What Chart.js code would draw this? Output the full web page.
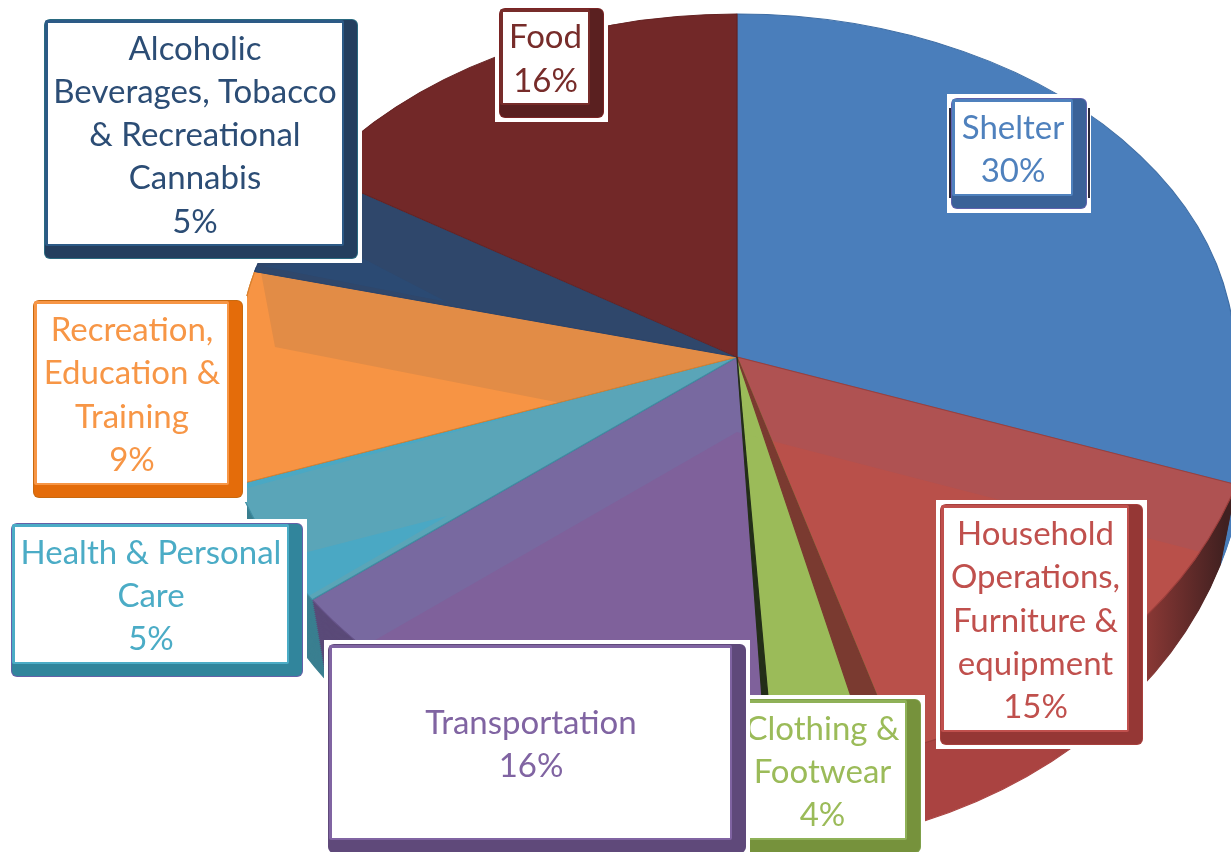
<!DOCTYPE html>
<html>
<head>
<meta charset="utf-8">
<title>Household spending shares</title>
<style>
  html, body { margin: 0; padding: 0; background: #fff; overflow: hidden; }
  canvas { display: block; }
</style>
<script src="https://cdn.jsdelivr.net/npm/chart.js@4"></script>
</head>
<body>
<canvas id="spendingPie" width="1231" height="852"></canvas>
<script>
const categories = [
  'Shelter',
  'Household Operations, Furniture & equipment',
  'Clothing & Footwear',
  'Transportation',
  'Health & Personal Care',
  'Recreation, Education & Training',
  'Alcoholic Beverages, Tobacco & Recreational Cannabis',
  'Food'
];
const shares = [30, 15, 4, 16, 5, 9, 5, 16];
const labelLines = [
  ['Shelter'],
  ['Household', 'Operations,', 'Furniture &', 'equipment'],
  ['Clothing &', 'Footwear'],
  ['Transportation'],
  ['Health & Personal', 'Care'],
  ['Recreation,', 'Education &', 'Training'],
  ['Alcoholic', 'Beverages, Tobacco', '& Recreational', 'Cannabis'],
  ['Food']
];

const sliceColors = ['#4a7ebb', '#b9504a', '#9bbb59', '#7f619b', '#4aa8c4', '#f79444', '#2b4a73', '#722828'];
const dullColors = ['#4a7ebb', '#af5252', '#9bbb59', '#7869a0', '#5aa5b8', '#e28c46', '#2f476b', '#722828'];
const edgeColors = ['#3f6ea5', '#9c3f3c', '#86a83f', '#655288', '#3f8ea3', '#d9812f', '#27406a', '#652222'];
const rimColors = ['#4a7ebb', '#aa4341', '#6f8a3a', '#5a4a78', '#3a7f90', '#5a3a15', '#223a58', '#4f1c1c'];
const textColors = ['#4f81bd', '#c0504d', '#9bbb59', '#8064a2', '#4bacc6', '#f79646', '#2c4d75', '#772c2a'];
const frameColors = ['#4f81bd', '#c0504d', '#8fb158', '#8064a2', '#4bacc6', '#f79646', '#2c5a86', '#772c2a'];
const bandColors = ['#3a6298', '#953735', '#76923c', '#5f497a', '#31859c', '#e46c0a', '#243f5f', '#5a2020'];
const outlineColors = ['#5f62ad', '#a8403d', '#7fa04a', '#5f497a', '#6560a8', '#c8690f', '#2a6a80', '#7a2424'];

// inner white area of each label: left, top, right, bottom
const labelBoxes = [
  [955, 102, 1071, 194],
  [944, 508, 1127, 730],
  [740, 703, 905, 838],
  [332, 648, 730, 838],
  [15, 527, 287, 662],
  [37, 304, 227, 483],
  [48, 23, 342, 244],
  [503, 12, 588, 103]
];

// pie face: perspective is faked with a different ellipse above and below the hub
const hub = { x: 737, y: 357 };
const upperFace = { rx: 498, ry: 343 };
const lowerFace = { rx: 525, ry: 413 };
const rim = { drop: 80, narrowing: 0.032, steps: 40, leftLimit: 247 };

// areas of the face outside the bevel, where the slices keep their full colour
const brightAreas = [
  [[262, 266], [362, 258], [447, 302]],
  [[260, 267], [275, 347], [561, 403], [240, 490], [240, 267]],
  [[447, 516], [300, 554], [300, 601]],
  [[737, 432], [330, 666], [330, 852], [1240, 852], [1240, 562]]
];

function recolor(arc, color, angles) {
  const copy = Object.create(arc);
  copy.options = Object.assign(Object.create(arc.options), { backgroundColor: color, borderColor: color });
  if (angles) {
    copy.startAngle = angles[0];
    copy.endAngle = angles[1];
    copy.circumference = angles[1] - angles[0];
  }
  return copy;
}

function onFace(chart, face, top, drop, paint, leftLimit) {
  const ctx = chart.ctx;
  const arc = chart.getDatasetMeta(0).data[0];
  const scaleX = face.rx / arc.outerRadius;
  const scaleY = face.ry / arc.outerRadius;
  const left = leftLimit || 0;
  ctx.save();
  ctx.beginPath();
  if (top) ctx.rect(left, 0, chart.width - left, hub.y);
  else ctx.rect(left, hub.y, chart.width - left, chart.height - hub.y);
  ctx.clip();
  ctx.translate(hub.x, hub.y + drop);
  ctx.scale(scaleX, scaleY);
  ctx.translate(-arc.x, -arc.y);
  paint(ctx, arc, scaleX);
  ctx.restore();
}

// side wall: the lower face repeated downward, narrowing a little as it drops
function drawRim(chart) {
  const arcs = chart.getDatasetMeta(0).data;
  for (let step = rim.steps; step > 0; step--) {
    const part = step / rim.steps;
    const face = { rx: lowerFace.rx * (1 - rim.narrowing * part), ry: lowerFace.ry };
    onFace(chart, face, false, rim.drop * part, (ctx, first, scaleX) => {
      const toArc = px => first.x + (px - hub.x) / scaleX;
      const shade = ctx.createLinearGradient(toArc(1050), 0, toArc(1225), 0);
      shade.addColorStop(0, '#aa4341');
      shade.addColorStop(0.55, '#8a3835');
      shade.addColorStop(1, '#402020');
      arcs.forEach((arc, i) => recolor(arc, i === 1 ? shade : rimColors[i]).draw(ctx));
    }, rim.leftLimit);
  }
}

function drawFace(chart, face, top) {
  const arcs = chart.getDatasetMeta(0).data;
  onFace(chart, face, top, 0, ctx => {
    arcs.forEach((arc, i) => {
      const copy = recolor(arc, dullColors[i]);
      copy.options.borderColor = edgeColors[i];
      copy.draw(ctx);
    });
  });
  const ctx = chart.ctx;
  ctx.save();
  ctx.beginPath();
  brightAreas.forEach(points => {
    points.forEach((p, i) => (i ? ctx.lineTo(p[0], p[1]) : ctx.moveTo(p[0], p[1])));
    ctx.closePath();
  });
  ctx.clip();
  onFace(chart, face, top, 0, paintCtx => arcs.forEach(arc => arc.draw(paintCtx)));
  ctx.restore();
}

// inner walls showing at both sides of the clothing slice
function drawWalls(chart) {
  const clothing = chart.getDatasetMeta(0).data[2];
  const degree = Math.PI / 180;
  onFace(chart, lowerFace, false, 0, ctx => {
    recolor(clothing, '#7a3a30', [clothing.startAngle, clothing.startAngle + 3.2 * degree]).draw(ctx);
    recolor(clothing, '#232e18', [clothing.endAngle - 0.5 * degree, clothing.endAngle + 0.3 * degree]).draw(ctx);
  });
}

function roundedBox(ctx, x0, y0, x1, y1, radius, color) {
  ctx.fillStyle = color;
  ctx.beginPath();
  ctx.roundRect(x0, y0, x1 - x0, y1 - y0, radius);
  ctx.fill();
}

function drawLabels(chart) {
  const ctx = chart.ctx;
  labelBoxes.forEach((box, i) => {
    const [left, top, right, bottom] = box;
    roundedBox(ctx, left - 8, top - 8, right + 20, bottom + 19, 0, '#ffffff');
    roundedBox(ctx, left - 4, top - 4, right + 16, bottom + 15, 6, outlineColors[i]);
    roundedBox(ctx, left - 3, top - 3, right + 15, bottom + 14, 5, bandColors[i]);
    roundedBox(ctx, left - 3, top - 3, right + 2, bottom + 2, 2, frameColors[i]);
    roundedBox(ctx, left, top, right, bottom, 0, '#ffffff');

    const lines = labelLines[i].concat(shares[i] + '%');
    const lineHeight = 43.3;
    const centerX = (left + right) / 2;
    const startY = (top + bottom) / 2 + 2 - (lines.length - 1) * lineHeight / 2;
    ctx.fillStyle = textColors[i];
    ctx.font = '33px Lato';
    ctx.textAlign = 'center';
    ctx.textBaseline = 'middle';
    lines.forEach((line, n) => ctx.fillText(line, centerX, startY + n * lineHeight));
  });

  // dark edges on the sides of the shelter label
  ctx.fillStyle = '#2c2a3c';
  ctx.fillRect(949, 108, 2, 90);
  ctx.fillRect(1088, 108, 2, 90);
}

const perspectivePie = {
  id: 'perspectivePie',
  beforeDatasetDraw() {
    return false;
  },
  afterDatasetsDraw(chart) {
    drawRim(chart);
    drawFace(chart, upperFace, true);
    drawFace(chart, lowerFace, false);
    drawWalls(chart);
    drawLabels(chart);
  }
};

new Chart(document.getElementById('spendingPie').getContext('2d'), {
  type: 'pie',
  data: {
    labels: categories,
    datasets: [{
      data: shares,
      backgroundColor: sliceColors,
      borderColor: edgeColors,
      borderWidth: 1
    }]
  },
  options: {
    responsive: false,
    animation: false,
    plugins: { legend: { display: false }, tooltip: { enabled: false } }
  },
  plugins: [perspectivePie]
});
</script>
</body>
</html>
